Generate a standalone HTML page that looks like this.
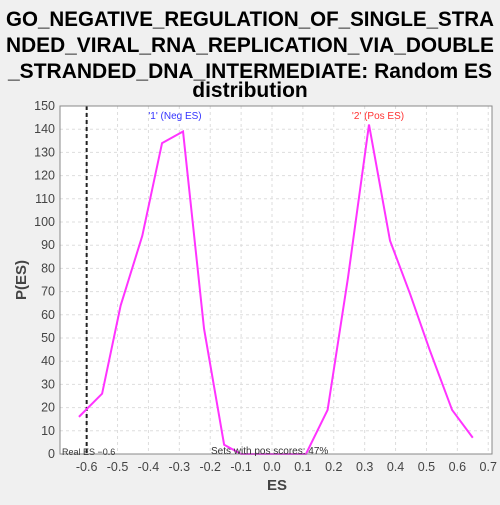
<!DOCTYPE html>
<html><head><meta charset="utf-8"><style>
body{margin:0;background:#f0f0f0;font-family:"Liberation Sans",sans-serif}
</style></head><body>
<svg width="500" height="500" xmlns="http://www.w3.org/2000/svg">
<rect width="500" height="500" fill="#f0f0f0"/>
<g font-size="21" font-weight="bold" text-anchor="middle" fill="#000">
<text x="250" y="26" textLength="488" lengthAdjust="spacingAndGlyphs">GO_NEGATIVE_REGULATION_OF_SINGLE_STRA</text>
<text x="250" y="52" textLength="488" lengthAdjust="spacingAndGlyphs">NDED_VIRAL_RNA_REPLICATION_VIA_DOUBLE</text>
<text x="250" y="78" textLength="484" lengthAdjust="spacingAndGlyphs">_STRANDED_DNA_INTERMEDIATE: Random ES</text>
<text x="250" y="97">distribution</text>
</g>
<rect x="60" y="106" width="432" height="348" fill="#fff"/>
<g id="grid"></g>
<g id="axes"></g>
<g id="marks"></g>
<rect x="60" y="106" width="432" height="348" fill="none" stroke="#888"/>
<text x="277" y="490" font-size="15" font-weight="bold" fill="#444" text-anchor="middle">ES</text>
<text x="26" y="280" font-size="15" font-weight="bold" fill="#444" text-anchor="middle" transform="rotate(-90 26 280)">P(ES)</text>
<text x="175" y="119" font-size="10" fill="#3333ff" text-anchor="middle">'1' (Neg ES)</text>
<text x="378" y="119" font-size="10" fill="#ff3333" text-anchor="middle">'2' (Pos ES)</text>
<text x="62" y="455" font-size="9" fill="#333">Real ES −0.6</text>
<text x="211" y="454" font-size="10" fill="#333">Sets with pos scores: 47%</text>
</svg>
<script>
const esValues=[-0.625,-0.55,-0.49,-0.42,-0.356,-0.288,-0.22,-0.155,-0.1,-0.05,0,0.05,0.11,0.18,0.246,0.314,0.382,0.447,0.51,0.583,0.65];
const probValues=[16,26,64,94,134,139,54,4,0,0,0,0,0,19,76,142,92,69,45,19,7];
const xTicks=[-0.6,-0.5,-0.4,-0.3,-0.2,-0.1,0.0,0.1,0.2,0.3,0.4,0.5,0.6,0.7];
const yTicks=[0,10,20,30,40,50,60,70,80,90,100,110,120,130,140,150];
const realES=-0.6;
const NS="http://www.w3.org/2000/svg";
const xs=v=>272+v*308.9, ys=v=>454-v*2.32;
function mk(t,a,p){const e=document.createElementNS(NS,t);for(const k in a)e.setAttribute(k,a[k]);p.appendChild(e);return e;}
const grid=document.getElementById('grid'),axes=document.getElementById('axes'),marks=document.getElementById('marks');
xTicks.forEach(t=>{const x=xs(t);
const g=mk('line',{x1:x,x2:x,y1:106,y2:454,stroke:'#ddd','stroke-dasharray':'3,3'},grid);


const l=mk('text',{x:x,y:471,'font-size':12.5,fill:'#444','text-anchor':'middle'},axes);l.textContent=t.toFixed(1);

});
yTicks.forEach(t=>{const y=ys(t);
const g=mk('line',{x1:60,x2:492,y1:y,y2:y,stroke:'#ddd','stroke-dasharray':'3,3'},grid);


const l=mk('text',{x:55,y:y+4,'font-size':12.5,fill:'#444','text-anchor':'end'},axes);l.textContent=t;

});
const rl=mk('line',{x1:xs(realES),x2:xs(realES),y1:106,y2:454,stroke:'#222','stroke-width':2,'stroke-dasharray':'4,3'},marks);


const pl=mk('polyline',{points:esValues.map((v,i)=>xs(v)+','+ys(probValues[i])).join(' '),fill:'none',stroke:'#ff33ff','stroke-width':2},marks);


</script>
</body></html>
